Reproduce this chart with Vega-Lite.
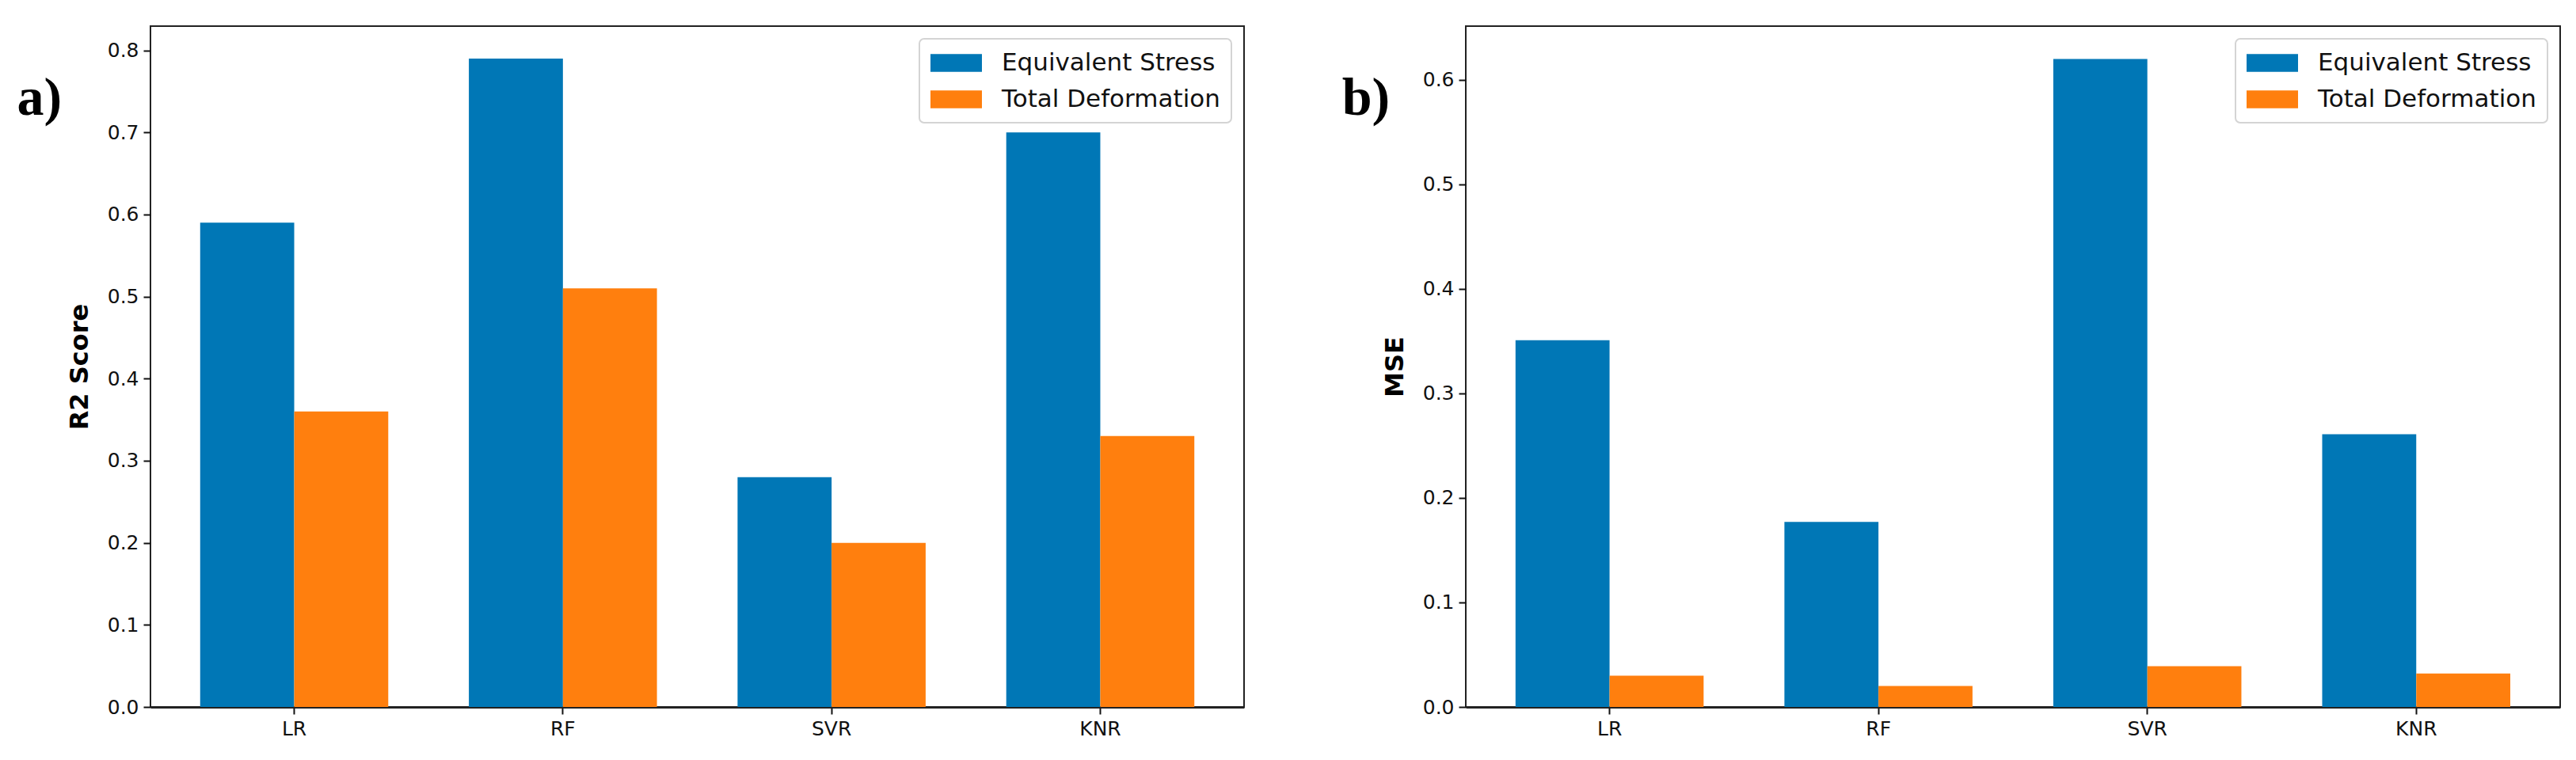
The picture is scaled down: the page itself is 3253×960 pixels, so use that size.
{
  "$schema": "https://vega.github.io/schema/vega-lite/v6.json",
  "background": "white",
  "padding": {"left": 20, "top": 32, "right": 0, "bottom": 0},
  "datasets": {
    "r2": [
      {"model": "LR", "metric": "Equivalent Stress", "value": 0.59},
      {"model": "LR", "metric": "Total Deformation", "value": 0.36},
      {"model": "RF", "metric": "Equivalent Stress", "value": 0.79},
      {"model": "RF", "metric": "Total Deformation", "value": 0.51},
      {"model": "SVR", "metric": "Equivalent Stress", "value": 0.28},
      {"model": "SVR", "metric": "Total Deformation", "value": 0.20},
      {"model": "KNR", "metric": "Equivalent Stress", "value": 0.70},
      {"model": "KNR", "metric": "Total Deformation", "value": 0.33}
    ],
    "mse": [
      {"model": "LR", "metric": "Equivalent Stress", "value": 0.351},
      {"model": "LR", "metric": "Total Deformation", "value": 0.030},
      {"model": "RF", "metric": "Equivalent Stress", "value": 0.177},
      {"model": "RF", "metric": "Total Deformation", "value": 0.020},
      {"model": "SVR", "metric": "Equivalent Stress", "value": 0.620},
      {"model": "SVR", "metric": "Total Deformation", "value": 0.039},
      {"model": "KNR", "metric": "Equivalent Stress", "value": 0.261},
      {"model": "KNR", "metric": "Total Deformation", "value": 0.032}
    ]
  },
  "spacing": 121,
  "hconcat": [
    {
      "width": 1381,
      "height": 860,
      "data": {"name": "r2"},
      "title": {"text": "a)", "orient": "left", "angle": 0, "anchor": "end", "align": "left", "baseline": "top", "font": "Liberation Serif", "fontSize": 68, "fontWeight": "bold", "color": "#000", "offset": 6, "dy": 58},
      "mark": {"type": "bar"},
      "encoding": {
        "x": {"field": "model", "type": "nominal", "sort": ["LR", "RF", "SVR", "KNR"], "scale": {"paddingInner": 0.3, "paddingOuter": 0.185}, "axis": {"title": null, "labelAngle": 0, "domain": true, "domainColor": "#222", "domainWidth": 3}},
        "xOffset": {"field": "metric", "type": "nominal", "sort": ["Equivalent Stress", "Total Deformation"], "scale": {"paddingInner": 0, "paddingOuter": 0}},
        "y": {"field": "value", "type": "quantitative", "scale": {"domain": [0, 0.8295], "nice": false, "zero": true}, "axis": {"title": "R2 Score", "values": [0, 0.1, 0.2, 0.3, 0.4, 0.5, 0.6, 0.7, 0.8], "format": ".1f"}},
        "color": {"field": "metric", "type": "nominal", "scale": {"domain": ["Equivalent Stress", "Total Deformation"], "range": ["#0077b6", "#ff7f0e"]}, "legend": {"title": null, "orient": "top-right", "offset": 16}}
      }
    },
    {
      "width": 1382,
      "height": 860,
      "data": {"name": "mse"},
      "title": {"text": "b)", "orient": "left", "angle": 0, "anchor": "end", "align": "left", "baseline": "top", "font": "Liberation Serif", "fontSize": 68, "fontWeight": "bold", "color": "#000", "offset": -10, "dy": 58},
      "mark": {"type": "bar"},
      "encoding": {
        "x": {"field": "model", "type": "nominal", "sort": ["LR", "RF", "SVR", "KNR"], "scale": {"paddingInner": 0.3, "paddingOuter": 0.185}, "axis": {"title": null, "labelAngle": 0, "domain": true, "domainColor": "#222", "domainWidth": 3}},
        "xOffset": {"field": "metric", "type": "nominal", "sort": ["Equivalent Stress", "Total Deformation"], "scale": {"paddingInner": 0, "paddingOuter": 0}},
        "y": {"field": "value", "type": "quantitative", "scale": {"domain": [0, 0.6515], "nice": false, "zero": true}, "axis": {"title": "MSE", "values": [0, 0.1, 0.2, 0.3, 0.4, 0.5, 0.6], "format": ".1f"}},
        "color": {"field": "metric", "type": "nominal", "scale": {"domain": ["Equivalent Stress", "Total Deformation"], "range": ["#0077b6", "#ff7f0e"]}, "legend": {"title": null, "orient": "top-right", "offset": 16}}
      }
    }
  ],
  "resolve": {"scale": {"y": "independent", "color": "independent"}, "legend": {"color": "independent"}},
  "config": {
    "font": "DejaVu Sans",
    "view": {"stroke": "#222", "strokeWidth": 2},
    "axis": {
      "labelFont": "DejaVu Sans", "labelFontSize": 25, "labelColor": "#111",
      "tickColor": "#111", "tickWidth": 2, "tickSize": 9, "labelPadding": 6,
      "domain": false, "grid": false,
      "titleFont": "DejaVu Sans", "titleFontSize": 32, "titleFontWeight": "bold", "titleColor": "#000", "titlePadding": 18
    },
    "legend": {
      "labelFont": "DejaVu Sans", "labelFontSize": 31, "labelColor": "#111", "labelLimit": 0,
      "symbolType": "M-2,-0.7L2,-0.7L2,0.7L-2,0.7Z", "symbolSize": 1056, "symbolStrokeWidth": 0,
      "symbolOffset": 16, "labelOffset": 41, "rowPadding": 14, "padding": 14,
      "strokeColor": "#d4d4d4", "strokeWidth": 2, "cornerRadius": 6, "fillColor": "white"
    }
  }
}
